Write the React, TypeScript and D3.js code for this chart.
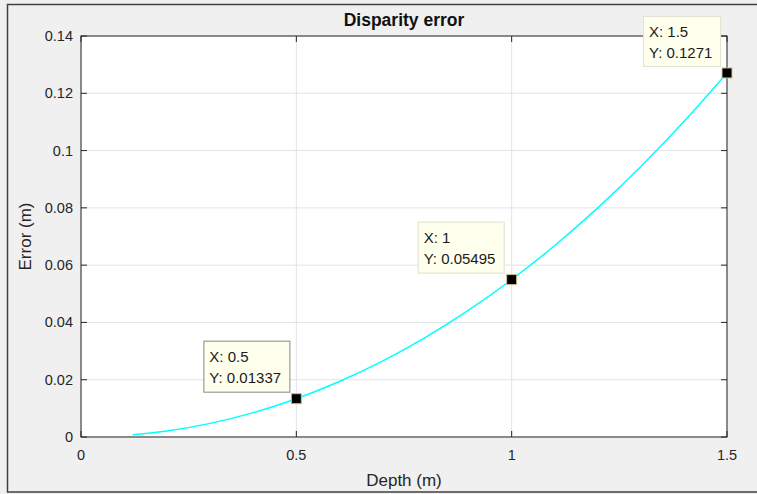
import React from "react";
import * as d3 from "d3";

const depth = [0.12, 0.2, 0.3, 0.4, 0.5, 0.6, 0.7, 0.8, 0.9, 1.0, 1.1, 1.2, 1.3, 1.4, 1.5];
const errorVals = [0.00076, 0.0021, 0.00476, 0.00851, 0.01337, 0.01936, 0.02649, 0.03479, 0.04427, 0.05495, 0.06686, 0.08001, 0.09443, 0.11013, 0.1271];
const xTicks = [0, 0.5, 1, 1.5];
const xTickLabels = ["0", "0.5", "1", "1.5"];
const yTicks = [0, 0.02, 0.04, 0.06, 0.08, 0.1, 0.12, 0.14];
const yTickLabels = ["0", "0.02", "0.04", "0.06", "0.08", "0.1", "0.12", "0.14"];
const tipX = [0.5, 1, 1.5];
const tipY = [0.01337, 0.05495, 0.1271];
const tipLabelX = ["X: 0.5", "X: 1", "X: 1.5"];
const tipLabelY = ["Y: 0.01337", "Y: 0.05495", "Y: 0.1271"];

export default function App() {
  const W = 757, H = 494;
  const left = 81, right = 727, top = 36, bottom = 437;
  const x = d3.scaleLinear().domain([0, 1.5]).range([left, right]);
  const y = d3.scaleLinear().domain([0, 0.14]).range([bottom, top]);
  const line = d3.line<number>().x((d, i) => x(depth[i])).y((d) => y(d)).curve(d3.curveMonotoneX);
  const font = "Liberation Sans, Arial, Helvetica, sans-serif";
  const ink = "#262626";
  // tip box offsets relative to marker (pixels)
  const tipBoxes = [
    { dx: -93, dy: -58, w: 86, h: 51, stroke: "#9a9a9a" },
    { dx: -94, dy: -58, w: 86, h: 51, stroke: "#e4e4d4" },
    { dx: -84, dy: -57, w: 77, h: 50, stroke: "#e4e4d4" },
  ];
  return (
    <svg width={W} height={H} style={{ position: "absolute", left: 0, top: 0 }} fontFamily={font}>
      <rect x={0} y={0} width={W} height={H} fill="#f0f0f0" />
      <rect x={7.5} y={4.5} width={760} height={487.5} fill="none" stroke="#404040" strokeWidth={1.5} />
      <rect x={left} y={top} width={right - left} height={bottom - top} fill="#ffffff" />
      {xTicks.map((t) => (
        <line key={"gx" + t} x1={x(t)} x2={x(t)} y1={top} y2={bottom} stroke="#e3e3e3" strokeWidth={1} />
      ))}
      {yTicks.map((t) => (
        <line key={"gy" + t} x1={left} x2={right} y1={y(t)} y2={y(t)} stroke="#e3e3e3" strokeWidth={1} />
      ))}
      {xTicks.map((t) => (
        <g key={"tx" + t}>
          <line x1={x(t)} x2={x(t)} y1={bottom} y2={bottom - 6} stroke={ink} />
          <line x1={x(t)} x2={x(t)} y1={top} y2={top + 6} stroke={ink} />
        </g>
      ))}
      {yTicks.map((t) => (
        <g key={"ty" + t}>
          <line x1={left} x2={left + 6} y1={y(t)} y2={y(t)} stroke={ink} />
          <line x1={right} x2={right - 6} y1={y(t)} y2={y(t)} stroke={ink} />
        </g>
      ))}
      <rect x={left} y={top} width={right - left} height={bottom - top} fill="none" stroke={ink} strokeWidth={1} />
      {xTicks.map((t, i) => (
        <text key={"lx" + t} x={x(t)} y={460} textAnchor="middle" fontSize={14.5} fill={ink}>
          {xTickLabels[i]}
        </text>
      ))}
      {yTicks.map((t, i) => (
        <text key={"ly" + t} x={73} y={y(t) + 5} textAnchor="end" fontSize={14.5} fill={ink}>
          {yTickLabels[i]}
        </text>
      ))}
      <text x={(left + right) / 2} y={26} textAnchor="middle" fontSize={17.5} fontWeight="bold" fill="#111">
        Disparity error
      </text>
      <text x={(left + right) / 2} y={486} textAnchor="middle" fontSize={17} fill={ink}>
        Depth (m)
      </text>
      <text transform={`translate(31,${(top + bottom) / 2}) rotate(-90)`} textAnchor="middle" fontSize={17} fill={ink}>
        Error (m)
      </text>
      <path d={line(errorVals) || ""} fill="none" stroke="#00ffff" strokeWidth={1.5} />
      {tipX.map((tx, i) => {
        const px = x(tx), py = y(tipY[i]);
        const b = tipBoxes[i];
        return (
          <g key={"tip" + i}>
            <rect x={px + b.dx + 0.5} y={py + b.dy + 0.5} width={b.w} height={b.h} fill="#ffffee" stroke={b.stroke} strokeWidth={1.2} />
            <text x={px + b.dx + 6} y={py + b.dy + 21} fontSize={15} fill="#1a1a1a">{tipLabelX[i]}</text>
            <text x={px + b.dx + 6} y={py + b.dy + 42} fontSize={15} fill="#1a1a1a">{tipLabelY[i]}</text>
            <rect x={px - 5} y={py - 5} width={10} height={10} fill="#000" stroke="#c8c098" strokeWidth={1} />
          </g>
        );
      })}
    </svg>
  );
}
